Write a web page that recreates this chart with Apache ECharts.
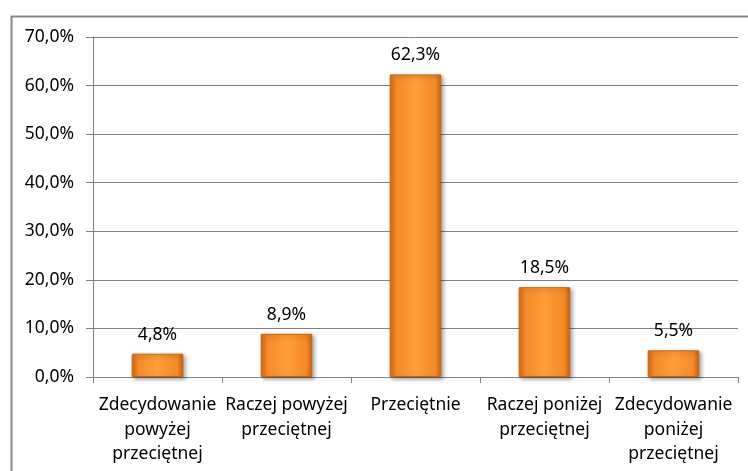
<!DOCTYPE html>
<html>
<head>
<meta charset="utf-8">
<script src="https://cdn.jsdelivr.net/npm/echarts@6/dist/echarts.min.js"></script>
<style>
html,body{margin:0;padding:0;background:#fff;}
#c{width:748px;height:471px;}
</style>
</head>
<body>
<div id="c"></div>
<script>
const categories = ["Zdecydowanie\npowyżej\nprzeciętnej", "Raczej powyżej\nprzeciętnej", "Przeciętnie", "Raczej poniżej\nprzeciętnej", "Zdecydowanie\nponiżej\nprzeciętnej"];
const values = [4.8, 8.9, 62.3, 18.5, 5.5];
const yMin = 0, yMax = 70, yStep = 10;

const fmt = v => v.toFixed(1).replace('.', ',') + '%';
const FONT = 'Noto Sans';

const chart = echarts.init(document.getElementById('c'), null, {renderer: 'canvas'});
chart.setOption({
  animation: false,
  backgroundColor: '#fff',
  graphic: [{
    type: 'rect', left: 9, top: 14,
    shape: {width: 760, height: 480},
    style: {fill: 'none', stroke: '#878787', lineWidth: 2}
  }],
  grid: {left: 93, right: 10, top: 37, bottom: 94},
  xAxis: {
    type: 'category',
    data: categories,
    axisLine: {lineStyle: {color: '#808080'}},
    axisTick: {show: true, length: 6, lineStyle: {color: '#808080'}},
    axisLabel: {color: '#000', fontFamily: FONT, fontSize: 17.5, lineHeight: 24.5, margin: 16, interval: 0}
  },
  yAxis: {
    type: 'value', min: yMin, max: yMax, interval: yStep,
    axisLine: {show: true, lineStyle: {color: '#808080'}},
    axisTick: {show: true, length: 7, lineStyle: {color: '#808080'}},
    splitLine: {lineStyle: {color: '#808080'}},
    axisLabel: {color: '#000', fontFamily: FONT, fontSize: 17.5, margin: 19, formatter: v => fmt(v)}
  },
  series: [{
    type: 'bar',
    data: values,
    barWidth: '40%',
    itemStyle: {
      color: new echarts.graphic.LinearGradient(0, 0, 1, 0, [
        {offset: 0, color: '#d86d15'},
        {offset: 0.12, color: '#f58a28'},
        {offset: 0.5, color: '#ff9e3a'},
        {offset: 0.88, color: '#f58a28'},
        {offset: 1, color: '#c9610f'}
      ]),
      borderColor: '#c8650f',
      borderWidth: 1,
      shadowColor: 'rgba(0,0,0,0.35)',
      shadowBlur: 4,
      shadowOffsetX: 2,
      shadowOffsetY: 2
    },
    label: {
      show: true, position: 'top', distance: 10,
      color: '#000', fontFamily: FONT, fontSize: 17.5,
      formatter: p => fmt(p.value)
    }
  }]
});
</script>
</body>
</html>
